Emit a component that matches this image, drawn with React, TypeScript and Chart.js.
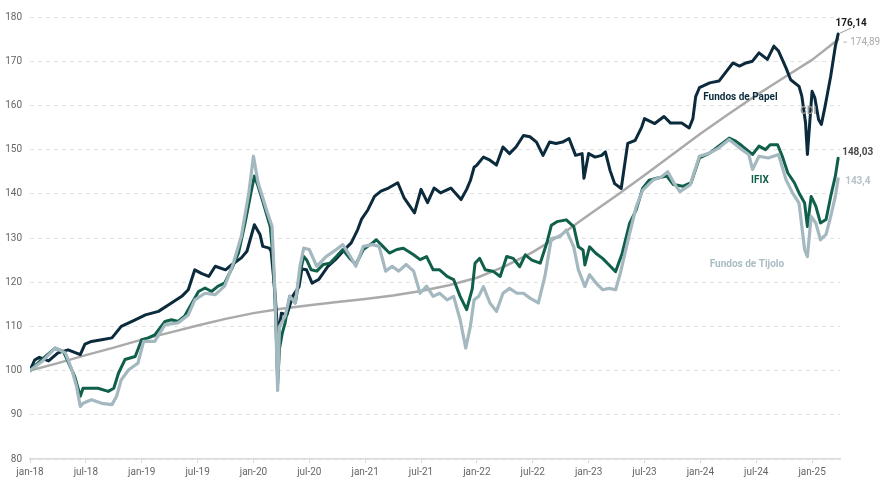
import { useEffect, useRef } from 'react'
import { Chart, registerables } from 'chart.js'

Chart.register(...registerables)

// x = months since jan-18
const xTickLabels = ['jan-18', 'jul-18', 'jan-19', 'jul-19', 'jan-20', 'jul-20', 'jan-21', 'jul-21', 'jan-22', 'jul-22', 'jan-23', 'jul-23', 'jan-24', 'jul-24', 'jan-25']

const papelMonths = [0, 0.5, 1, 2, 3, 4.1, 5.4, 5.9, 6.6, 7.7, 8.8, 9.8, 11.3, 12.4, 13.8, 14.9, 16.3, 17, 17.7, 18.4, 19.2, 19.9, 21, 21.7, 22.7, 23.3, 24.1, 24.7, 25, 25.7, 25.9, 26.3, 26.5, 26.7, 27, 27.6, 28.2, 28.9, 29.2, 29.7, 30.3, 31, 32, 32.8, 33.8, 34.5, 35.2, 35.6, 36.3, 37, 37.7, 38.5, 39.5, 40.2, 41.3, 42, 42.7, 43.4, 44.1, 45.2, 46.3, 46.9, 47.3, 47.7, 48, 48.7, 49.4, 50.1, 50.8, 51.5, 52.2, 53, 53.7, 54.4, 55.1, 55.8, 56.5, 57.2, 57.9, 58.6, 59.3, 59.5, 60, 60.7, 61.4, 61.8, 62.3, 62.8, 63.5, 64.2, 65, 65.7, 66, 67.1, 68.1, 68.8, 70, 70.8, 71.2, 71.5, 71.9, 73, 74, 74.8, 75.5, 76.2, 76.9, 77.6, 78.3, 79.2, 79.9, 80.4, 81.2, 81.7, 82.6, 82.9, 83.3, 83.5, 83.8, 84, 84.3, 84.7, 85, 85.4, 86, 86.5, 86.8]
const papelValues = [100, 102.4, 103, 102.2, 104, 104.7, 103.6, 106, 106.6, 107, 107.4, 110, 111.5, 112.6, 113.4, 114.9, 116.8, 118.3, 122.8, 122, 121.3, 123.6, 122.8, 124, 125.5, 127, 133, 130.8, 128.1, 127.7, 127, 118, 112, 108, 113, 112.6, 116.8, 119, 123, 122.8, 119.8, 120.6, 123.6, 125.1, 127.4, 128.9, 131.9, 134.2, 136.4, 139.4, 140.6, 141.3, 142.5, 139, 135.7, 141, 138, 141.3, 140.2, 141.3, 138.7, 141, 143, 146, 146.5, 148.3, 147.6, 146.5, 150.6, 149.1, 150.6, 153.2, 152.9, 151.7, 148.7, 151.7, 151.4, 151.7, 152.5, 148.7, 149.1, 143.5, 149.1, 148.3, 148.7, 149.5, 145.3, 142.3, 141.2, 151.4, 152.1, 155.1, 157, 155.9, 157.5, 156, 156, 154.9, 157, 162, 164, 165.1, 165.5, 167.7, 169.6, 168.9, 169.6, 170, 171.9, 170.4, 173.4, 172.3, 168.5, 165.8, 164.3, 162.1, 156, 148.9, 157.5, 163.2, 161.7, 156.8, 155.7, 159.8, 166.6, 173.4, 176.14]

const ifixMonths = [0, 1.25, 2.7, 3.6, 4.3, 4.8, 5.4, 5.7, 6.3, 7.3, 8.4, 9, 9.5, 10.2, 11.3, 12, 12.7, 13.4, 14.5, 15.2, 15.9, 16.6, 17.4, 18.1, 18.8, 19.5, 20.2, 20.9, 21.7, 22.4, 23.1, 23.8, 24.1, 24.5, 25, 25.8, 26.1, 26.4, 26.6, 26.8, 27.1, 27.4, 27.9, 28.5, 29, 29.4, 29.7, 30.2, 30.8, 31.5, 32.2, 32.9, 33.6, 34.3, 35, 35.8, 36.8, 37.2, 37.9, 38.6, 39.4, 40.1, 41.2, 41.9, 42.6, 43.3, 44, 44.8, 45.5, 46.2, 46.9, 47.5, 47.8, 48.3, 48.9, 49.8, 50.5, 51.2, 51.9, 52.6, 53.2, 53.9, 54.8, 55.5, 56, 56.6, 57.6, 58.4, 58.9, 59.4, 59.6, 60.1, 60.8, 61.5, 62.2, 62.9, 63.6, 64.4, 65.1, 65.8, 66.5, 67.3, 68.4, 69.1, 70.1, 71, 71.9, 73, 74, 75.1, 75.8, 76.5, 77.6, 78.3, 79, 79.5, 80.3, 80.8, 81.4, 82.1, 82.6, 83.2, 83.5, 83.9, 84.4, 84.9, 85.5, 86, 86.5, 86.8]
const ifixValues = [100, 102.5, 105.1, 104.3, 101, 98.7, 94.2, 96, 96, 96, 95.3, 96, 99.4, 102.5, 103.2, 107, 107.4, 108.1, 111.1, 111.5, 111.1, 112.3, 115.3, 117.9, 118.7, 117.9, 119.1, 119.8, 123.2, 126.6, 133.4, 140.9, 144, 141.7, 138.3, 132.6, 125.8, 111.5, 97, 105, 108.5, 110.8, 116.8, 115.3, 122.1, 125.8, 125.1, 122.8, 122.5, 124, 124.3, 125.8, 127.4, 125.5, 124, 127.4, 128.9, 129.6, 128.1, 126.6, 127.4, 127.7, 126.2, 125.1, 125.8, 122.8, 122.8, 121.3, 120.6, 116.8, 113.8, 118.5, 124.3, 125.4, 122.8, 122.4, 121.3, 125.8, 125.4, 123.5, 126.2, 125, 124.3, 128.8, 132.9, 133.7, 134.1, 132.6, 128, 127.3, 123.9, 128, 126.5, 125.4, 123.9, 122.4, 126.5, 133.3, 136.3, 141.2, 143.1, 143.5, 144, 142.1, 141.7, 142.5, 148.1, 149.2, 150.8, 152.6, 151.9, 150.8, 148.9, 150.8, 150, 151.1, 151.1, 148.5, 144.7, 142.5, 140.2, 137.9, 132.6, 139.4, 137.2, 133.4, 134.2, 139.4, 144, 148.03]

const tijoloMonths = [0, 1.25, 2.7, 3.8, 4.5, 5, 5.4, 5.7, 6.6, 7.7, 8.8, 9.3, 9.8, 10.6, 11.6, 12.2, 13.4, 14.5, 15.9, 17, 17.7, 18.8, 19.9, 20.9, 21.8, 22.7, 23.5, 24, 24.5, 25.4, 26, 26.3, 26.6, 26.8, 27.4, 27.9, 28.5, 29, 29.4, 30, 30.8, 31.8, 32.9, 33.6, 34.3, 35, 35.8, 36.8, 37.5, 38.2, 38.9, 39.6, 40.4, 41.2, 41.9, 42.6, 43.3, 44, 44.8, 45.5, 46.2, 46.8, 47.3, 47.7, 48.2, 48.7, 49.4, 50.1, 50.8, 51.5, 52.3, 53, 53.7, 54.6, 55.3, 56, 56.9, 57.6, 58.4, 58.9, 59.6, 60.1, 60.8, 61.5, 62.2, 62.9, 63.4, 64.4, 65.1, 65.8, 66.9, 67.8, 68.5, 69.2, 69.8, 70.9, 71.9, 73, 74, 75.1, 76.2, 77.2, 77.6, 78.3, 79.3, 80.4, 81.2, 81.9, 82.6, 83.2, 83.5, 83.9, 84.4, 84.9, 85.5, 86, 86.5, 86.8]
const tijoloValues = [100, 102, 105.1, 104, 100.2, 96.4, 91.9, 92.6, 93.4, 92.6, 92.3, 94.2, 97.9, 100.2, 101.7, 106.6, 106.6, 110.4, 110.8, 112.6, 116, 117.5, 117.2, 119.1, 124, 130.4, 140.2, 148.5, 142.5, 136.4, 132.6, 118.3, 95.5, 110, 112.3, 116.8, 115.3, 123.6, 127.7, 127.4, 123.6, 125.8, 127.4, 128.5, 126.2, 123.6, 128.1, 128.5, 128.1, 122.5, 123.6, 122.5, 124, 122.5, 117.5, 119.1, 116.8, 117.5, 116, 116.8, 111.5, 105.1, 110, 116, 116.8, 119, 115.3, 113.4, 117.5, 118.6, 117.5, 117.5, 116.4, 115.3, 121.3, 129.9, 130.3, 131.8, 128, 122.8, 119, 121.7, 119.8, 118.3, 118.6, 118.3, 122, 131, 137, 140.8, 143.1, 143.8, 145, 142.3, 140.5, 142, 148.5, 149.2, 150.4, 152.3, 150.4, 148.9, 145.5, 148.5, 148.1, 148.9, 143.2, 140.2, 137.9, 127.4, 125.8, 134.9, 133.4, 129.6, 130.8, 134.9, 139.4, 143.4]

const cdiMonths = [0, 3, 6, 9, 12, 15, 18, 21, 24, 27, 30, 33, 36, 39, 42, 45, 48, 51, 54, 57, 60, 63, 66, 69, 72, 75, 78, 81, 84, 86.8]
const cdiValues = [100, 101.7, 103.5, 105.2, 107, 108.6, 110.2, 111.7, 113, 114, 114.8, 115.5, 116.2, 117, 118, 119.3, 121, 123.6, 126.8, 130.7, 135.2, 139.6, 144.2, 148.9, 153.6, 158, 162.3, 166.3, 170.3, 174.89]

const seriesNames = ['Fundos de Tijolo', 'IFIX', 'Fundos de Papel', 'CDI']
const seriesColors = ['#a4b8c0', '#0f5f4b', '#0b2a3c', '#aaaaaa']
const endLabels = ['143,4', '148,03', '176,14', '174,89']
const endLabelColors = ['#b3c3ca', '#4a4a4a', '#1a1a1a', '#aaaaaa']

const toPoints = (xs: number[], ys: number[]) => xs.map((x, i) => ({ x, y: ys[i] }))

const FONT = 'Roboto, "Noto Sans", sans-serif'

const labelsPlugin = {
  id: 'seriesLabels',
  afterDatasetsDraw(chart: any) {
    const { ctx } = chart
    const xs = chart.scales.x
    const ys = chart.scales.y
    ctx.save()
    ctx.font = `bold 10px ${FONT}`
    ctx.textBaseline = 'middle'

    // names in the plot (month, value)
    const names = [
      { text: 'Fundos de Papel', m: 76.3, v: 161.9, color: seriesColors[2] },
      { text: 'CDI', m: 83.6, v: 158.7, color: '#999999' },
      { text: 'IFIX', m: 78.4, v: 142.9, color: seriesColors[1] },
      { text: 'Fundos de Tijolo', m: 77, v: 124.1, color: '#a9bcc4' },
    ]
    ctx.textAlign = 'center'
    names.forEach(n => {
      ctx.fillStyle = n.color
      ctx.fillText(n.text, xs.getPixelForValue(n.m), ys.getPixelForValue(n.v))
    })

    // end values
    chart.data.datasets.forEach((ds: any, i: number) => {
      const last = ds.data[ds.data.length - 1]
      const ex = xs.getPixelForValue(last.x)
      const ey = ys.getPixelForValue(last.y)
      ctx.fillStyle = endLabelColors[i]
      ctx.textAlign = 'left'
      if (i === 2) {
        ctx.strokeStyle = '#999'
        ctx.lineWidth = 1
        ctx.beginPath()
        ctx.moveTo(ex + 2, ey - 1)
        ctx.lineTo(ex + 13, ey - 6)
        ctx.stroke()
        ctx.textAlign = 'center'
        ctx.fillText(endLabels[i], ex + 13, ey - 11)
      } else if (i === 3) {
        ctx.strokeStyle = '#bbb'
        ctx.lineWidth = 1
        ctx.beginPath()
        ctx.moveTo(ex + 5, ey + 2.5)
        ctx.lineTo(ex + 9, ey + 2.5)
        ctx.stroke()
        ctx.font = `10px ${FONT}`
        ctx.fillText(endLabels[i], ex + 12, ey + 2.5)
        ctx.font = `bold 10px ${FONT}`
      } else if (i === 1) {
        ctx.fillText(endLabels[i], ex + 4, ey - 6)
      } else {
        ctx.fillText(endLabels[i], ex + 7, ey + 3)
      }
    })
    ctx.restore()
  },
}

export default function App() {
  const canvasRef = useRef<HTMLCanvasElement>(null)
  const chartRef = useRef<Chart | null>(null)

  useEffect(() => {
    if (!canvasRef.current) return
    if (chartRef.current) chartRef.current.destroy()

    const series = [
      toPoints(tijoloMonths, tijoloValues),
      toPoints(ifixMonths, ifixValues),
      toPoints(papelMonths, papelValues),
      toPoints(cdiMonths, cdiValues),
    ]
    const widths = [3.2, 3, 3, 2.5]

    chartRef.current = new Chart(canvasRef.current, {
      type: 'line',
      data: {
        datasets: series.map((data, i) => ({
          label: seriesNames[i],
          data,
          borderColor: seriesColors[i],
          borderWidth: widths[i],
          pointRadius: 0,
          tension: 0,
          fill: false,
          borderJoinStyle: 'round' as const,
          borderCapStyle: 'round' as const,
          order: i,
        })),
      },
      options: {
        animation: false,
        responsive: true,
        maintainAspectRatio: false,
        parsing: false as any,
        layout: { padding: { top: 17, right: 46, left: 0, bottom: 0 } },
        plugins: { legend: { display: false }, tooltip: { enabled: false } },
        scales: {
          x: {
            type: 'linear',
            min: 0,
            max: 87,
            afterBuildTicks: (scale: any) => {
              scale.ticks = scale.ticks.filter((t: any) => t.value % 6 === 0)
            },
            afterFit: (scale: any) => { scale.height = 28 },
            ticks: {
              stepSize: 6,
              autoSkip: false,
              maxRotation: 0,
              padding: 3,
              color: '#666',
              font: { size: 10, family: FONT },
              callback: (v: any) => xTickLabels[Math.round(Number(v) / 6)] ?? '',
            },
            grid: { drawOnChartArea: false, drawTicks: true, tickLength: 4, color: '#d9d9d9' },
            border: { display: true, color: '#d9d9d9', width: 1.5 },
          },
          y: {
            min: 80,
            max: 180,
            afterFit: (scale: any) => { scale.width = 30 },
            ticks: {
              stepSize: 10,
              padding: 8,
              color: '#666',
              font: { size: 10, family: FONT },
            },
            grid: { color: '#e2e2e2', drawTicks: false, lineWidth: 1 },
            border: { display: false, dash: [4, 4] },
          },
        },
      },
      plugins: [labelsPlugin],
    } as any)

    return () => { chartRef.current?.destroy() }
  }, [])

  return (
    <div style={{ position: 'fixed', left: 0, top: 0, width: 886, height: 487, background: '#fff' }}>
      <canvas ref={canvasRef} />
    </div>
  )
}
